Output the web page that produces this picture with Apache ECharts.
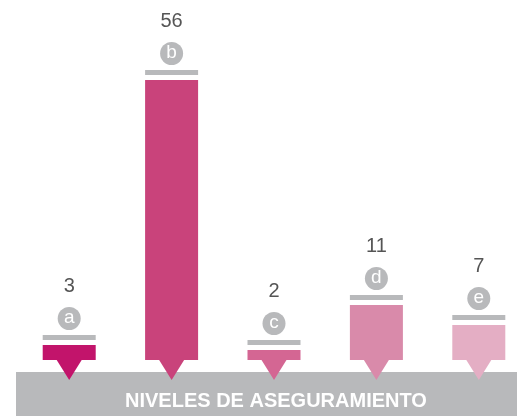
<!DOCTYPE html>
<html>
<head>
<meta charset="utf-8">
<script src="https://cdn.jsdelivr.net/npm/echarts@6/dist/echarts.min.js"></script>
<style>
  html, body { margin: 0; padding: 0; background: #fff; }
  #chart { width: 517px; height: 416px; }
</style>
</head>
<body>
<div id="chart"></div>
<script>
// datos
const categories = ['a', 'b', 'c', 'd', 'e']
const values = [3, 56, 2, 11, 7]
const barColors = ['#c2146b', '#c9437b', '#d46693', '#d98aaa', '#e4aec4']

const GRAY = '#b8b9bb'

const chart = echarts.init(document.getElementById('chart'))

// decoraciones: raya gris, círculo con letra, valor y triángulo
function renderDeco(params, api) {
  const idx = api.value(0)
  const top = api.coord([idx, api.value(1)])
  const base = api.coord([idx, 0])
  const w = 53
  const x = top[0]
  const y = top[1]
  const color = barColors[idx]
  return {
    type: 'group',
    children: [
      {
        type: 'polygon',
        shape: { points: [[x - 12.5, base[1]], [x + 12.5, base[1]], [x, base[1] + 20]] },
        style: { fill: color },
        z2: 5
      },
      {
        type: 'rect',
        shape: { x: x - w / 2, y: y - 10, width: w, height: 5 },
        style: { fill: GRAY }
      },
      {
        type: 'circle',
        shape: { cx: x, cy: y - 26.5, r: 11.5 },
        style: { fill: GRAY }
      },
      {
        type: 'text',
        style: {
          x: x, y: y - 27.5,
          text: categories[idx],
          fill: '#fff',
          font: '19px "Liberation Sans", Arial, sans-serif',
          align: 'center', verticalAlign: 'middle'
        }
      },
      {
        type: 'text',
        style: {
          x: x, y: y - 59,
          text: String(values[idx]),
          fill: '#555',
          font: '20px "Liberation Sans", Arial, sans-serif',
          align: 'center', verticalAlign: 'middle'
        }
      }
    ]
  }
}

const option = {
  animation: false,
  grid: { left: 18, top: 80, bottom: 56, width: 512, outerBoundsMode: 'none', containLabel: false },
  xAxis: {
    type: 'category',
    data: categories,
    show: false
  },
  yAxis: { type: 'value', min: 0, max: 56, show: false },
  graphic: [
    {
      type: 'rect',
      left: 16, top: 372,
      shape: { width: 501, height: 44 },
      style: { fill: GRAY },
      z: 0
    },
    {
      type: 'text',
      left: 125, top: 391,
      style: {
        text: 'NIVELES DE ASEGURAMIENTO',
        fill: '#fff',
        font: 'bold 20px "Liberation Sans", Arial, sans-serif'
      },
      z: 10
    }
  ],
  series: [
    {
      type: 'bar',
      data: values.map((v, i) => ({ value: v, itemStyle: { color: barColors[i] } })),
      barWidth: 53,
      z: 3
    },
    {
      type: 'custom',
      data: values.map((v, i) => [i, v]),
      renderItem: renderDeco,
      z: 4
    }
  ]
}
chart.setOption(option)
</script>
</body>
</html>
